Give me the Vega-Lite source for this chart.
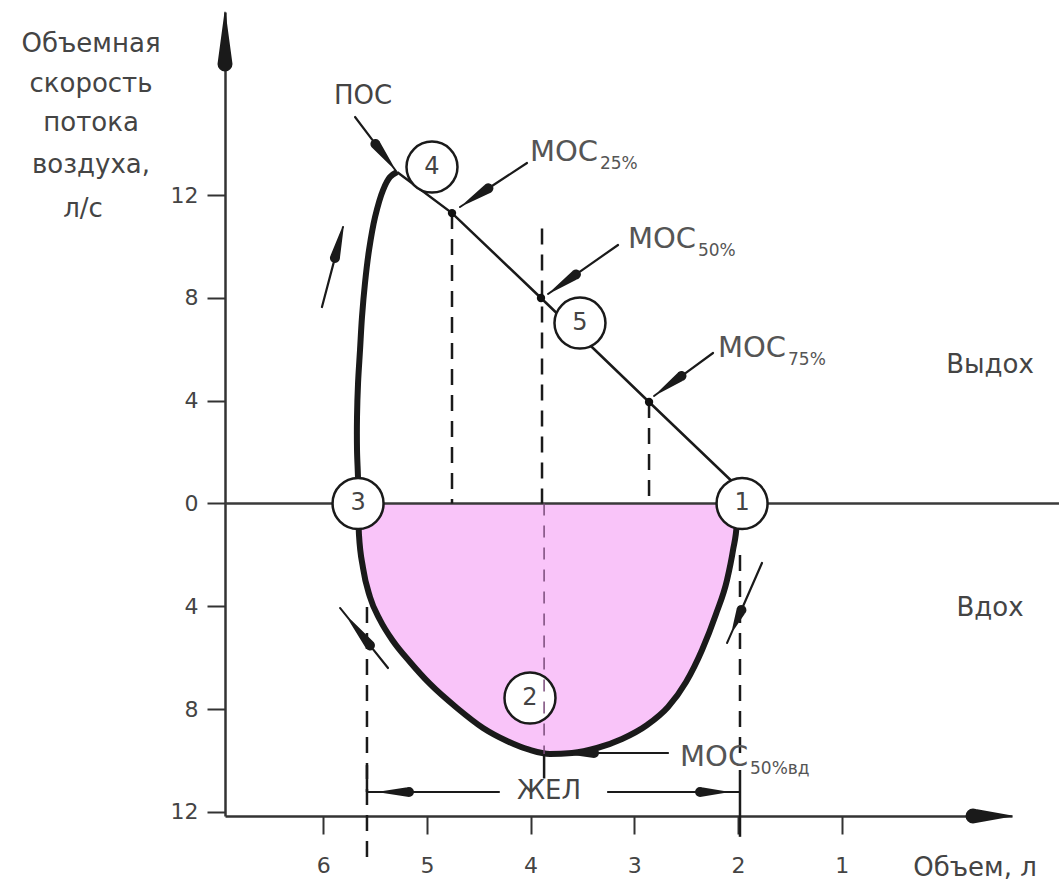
{
  "$schema": "https://vega.github.io/schema/vega-lite/v6.json",
  "width": 787,
  "height": 804,
  "autosize": {"type": "none"},
  "padding": {"left": 225, "top": 12, "right": 47, "bottom": 70},
  "background": "white",
  "config": {"view": {"stroke": null}, "font": "DejaVu Sans"},
  "datasets": {
    "insp": [
      {"v": 5.664, "f": 0}, {"v": 5.655, "f": -1.226}, {"v": 5.616, "f": -2.51}, {"v": 5.549, "f": -3.638},
      {"v": 5.452, "f": -4.533}, {"v": 5.327, "f": -5.35}, {"v": 5.163, "f": -6.167}, {"v": 4.97, "f": -7.023},
      {"v": 4.71, "f": -7.957}, {"v": 4.459, "f": -8.735}, {"v": 4.228, "f": -9.241}, {"v": 4.006, "f": -9.591},
      {"v": 3.813, "f": -9.747}, {"v": 3.601, "f": -9.708}, {"v": 3.36, "f": -9.514}, {"v": 3.119, "f": -9.163},
      {"v": 2.877, "f": -8.619}, {"v": 2.675, "f": -7.918}, {"v": 2.501, "f": -6.946}, {"v": 2.347, "f": -5.7},
      {"v": 2.212, "f": -4.3}, {"v": 2.106, "f": -2.977}, {"v": 2.048, "f": -1.809}, {"v": 2.01, "f": -0.72},
      {"v": 2.0, "f": 0}
    ],
    "exp": [
      {"seq": 0, "v": 5.664, "f": 0}, {"seq": 1, "v": 5.664, "f": 0.914}, {"seq": 2, "v": 5.674, "f": 2.082},
      {"seq": 3, "v": 5.674, "f": 3.366}, {"seq": 4, "v": 5.664, "f": 4.689}, {"seq": 5, "v": 5.645, "f": 5.973},
      {"seq": 6, "v": 5.626, "f": 7.257}, {"seq": 7, "v": 5.597, "f": 8.58}, {"seq": 8, "v": 5.558, "f": 9.864},
      {"seq": 9, "v": 5.5, "f": 11.148}, {"seq": 10, "v": 5.423, "f": 12.198}, {"seq": 11, "v": 5.356, "f": 12.704},
      {"seq": 12, "v": 5.288, "f": 12.899}
    ],
    "straight": [
      {"v": 5.288, "f": 12.899}, {"v": 4.758, "f": 11.3}, {"v": 3.9, "f": 7.996}, {"v": 2.858, "f": 3.949}, {"v": 1.961, "f": 0.486}
    ],
    "dots": [
      {"name": "МОС25%", "v": 4.758, "f": 11.3}, {"name": "МОС50%", "v": 3.9, "f": 7.996}, {"name": "МОС75%", "v": 2.858, "f": 3.949}
    ],
    "circles": [
      {"n": "1", "v": 1.961, "f": 0}, {"n": "2", "v": 4.006, "f": -7.568}, {"n": "3", "v": 5.664, "f": 0},
      {"n": "4", "v": 4.951, "f": 13.09}, {"n": "5", "v": 3.524, "f": 7.02}
    ],
    "guides": [
      {"id": "zero", "kind": "axis", "v": 6.947, "f": 0, "v2": -1.095, "f2": 0},
      {"id": "moc25", "kind": "dash", "v": 4.758, "f": 11.3, "v2": 4.758, "f2": 0},
      {"id": "moc75", "kind": "dash", "v": 2.858, "f": 3.949, "v2": 2.858, "f2": 0},
      {"id": "mid_up", "kind": "dash", "v": 3.89, "f": 10.7, "v2": 3.89, "f2": 0},
      {"id": "mid_low", "kind": "thin", "v": 3.87, "f": 0, "v2": 3.87, "f2": -9.75},
      {"id": "mid_solid", "kind": "solid", "v": 3.87, "f": -9.75, "v2": 3.87, "f2": -10.7},
      {"id": "left", "kind": "dash", "v": 5.578, "f": -4.03, "v2": 5.578, "f2": -13.87},
      {"id": "left_solid", "kind": "solid", "v": 5.578, "f": -10.18, "v2": 5.578, "f2": -11.23},
      {"id": "right", "kind": "dash", "v": 1.981, "f": -2.0, "v2": 1.981, "f2": -9.9},
      {"id": "right_solid", "kind": "solid", "v": 1.981, "f": -10.37, "v2": 1.981, "f2": -12.97}
    ],
    "arrows": [
      {"id": "pos", "seq": 0, "part": "shaft", "v": 5.693, "f": 15.039},
      {"id": "pos", "seq": 1, "part": "shaft", "v": 5.508, "f": 14.054},
      {"id": "pos", "seq": 2, "part": "head", "v": 5.497, "f": 13.992},
      {"id": "pos", "seq": 3, "part": "point", "v": 5.333, "f": 13.125},
      {"id": "pos", "seq": 4, "part": "point", "v": 5.298, "f": 12.938},
      {"id": "m25", "seq": 0, "part": "shaft", "v": 4.035, "f": 13.249},
      {"id": "m25", "seq": 1, "part": "shaft", "v": 4.391, "f": 12.307},
      {"id": "m25", "seq": 2, "part": "head", "v": 4.407, "f": 12.265},
      {"id": "m25", "seq": 3, "part": "point", "v": 4.633, "f": 11.665},
      {"id": "m25", "seq": 4, "part": "point", "v": 4.681, "f": 11.537},
      {"id": "m50", "seq": 0, "part": "shaft", "v": 3.157, "f": 10.058},
      {"id": "m50", "seq": 1, "part": "shaft", "v": 3.548, "f": 8.957},
      {"id": "m50", "seq": 2, "part": "head", "v": 3.563, "f": 8.911},
      {"id": "m50", "seq": 3, "part": "point", "v": 3.785, "f": 8.284},
      {"id": "m50", "seq": 4, "part": "point", "v": 3.832, "f": 8.152},
      {"id": "m75", "seq": 0, "part": "shaft", "v": 2.241, "f": 5.856},
      {"id": "m75", "seq": 1, "part": "shaft", "v": 2.529, "f": 5.008},
      {"id": "m75", "seq": 2, "part": "head", "v": 2.545, "f": 4.961},
      {"id": "m75", "seq": 3, "part": "point", "v": 2.764, "f": 4.319},
      {"id": "m75", "seq": 4, "part": "point", "v": 2.81, "f": 4.183},
      {"id": "m50vd", "seq": 0, "part": "shaft", "v": 2.675, "f": -9.708},
      {"id": "m50vd", "seq": 1, "part": "shaft", "v": 3.369, "f": -9.708},
      {"id": "m50vd", "seq": 2, "part": "head", "v": 3.389, "f": -9.708},
      {"id": "m50vd", "seq": 3, "part": "point", "v": 3.659, "f": -9.708},
      {"id": "m50vd", "seq": 4, "part": "point", "v": 3.716, "f": -9.708},
      {"id": "zhel_l", "seq": 0, "part": "shaft", "v": 4.305, "f": -11.226},
      {"id": "zhel_l", "seq": 1, "part": "shaft", "v": 5.153, "f": -11.226},
      {"id": "zhel_l", "seq": 2, "part": "head", "v": 5.173, "f": -11.226},
      {"id": "zhel_l", "seq": 3, "part": "point", "v": 5.423, "f": -11.226},
      {"id": "zhel_l", "seq": 4, "part": "point", "v": 5.578, "f": -11.226},
      {"id": "zhel_r", "seq": 0, "part": "shaft", "v": 3.254, "f": -11.226},
      {"id": "zhel_r", "seq": 1, "part": "shaft", "v": 2.386, "f": -11.226},
      {"id": "zhel_r", "seq": 2, "part": "head", "v": 2.366, "f": -11.226},
      {"id": "zhel_r", "seq": 3, "part": "point", "v": 2.135, "f": -11.226},
      {"id": "zhel_r", "seq": 4, "part": "point", "v": 1.981, "f": -11.226},
      {"id": "dir_a", "seq": 0, "part": "shaft", "v": 6.012, "f": 7.646},
      {"id": "dir_a", "seq": 1, "part": "shaft", "v": 5.892, "f": 9.479},
      {"id": "dir_a", "seq": 2, "part": "head", "v": 5.887, "f": 9.556},
      {"id": "dir_a", "seq": 3, "part": "point", "v": 5.814, "f": 10.685},
      {"id": "dir_a", "seq": 4, "part": "point", "v": 5.809, "f": 10.759},
      {"id": "dir_b", "seq": 0, "part": "shaft", "v": 5.375, "f": -6.401},
      {"id": "dir_b", "seq": 1, "part": "shaft", "v": 5.536, "f": -5.588},
      {"id": "dir_b", "seq": 2, "part": "head", "v": 5.549, "f": -5.525},
      {"id": "dir_b", "seq": 3, "part": "point", "v": 5.747, "f": -4.521},
      {"id": "dir_b", "seq": 4, "part": "point", "v": 5.838, "f": -4.066},
      {"id": "dir_c", "seq": 0, "part": "shaft", "v": 1.769, "f": -2.315},
      {"id": "dir_c", "seq": 1, "part": "shaft", "v": 1.96, "f": -4.074},
      {"id": "dir_c", "seq": 2, "part": "head", "v": 1.967, "f": -4.144},
      {"id": "dir_c", "seq": 3, "part": "point", "v": 2.048, "f": -4.895},
      {"id": "dir_c", "seq": 4, "part": "point", "v": 2.106, "f": -5.428},
      {"id": "axis_y", "seq": 0, "part": "axis", "v": 6.947, "f": 17.02},
      {"id": "axis_y", "seq": 1, "part": "axishead", "v": 6.947, "f": 17.1},
      {"id": "axis_y", "seq": 2, "part": "tip", "v": 6.947, "f": 19.125},
      {"id": "axis_x", "seq": 0, "part": "axis", "v": -0.247, "f": -12.16},
      {"id": "axis_x", "seq": 1, "part": "axishead", "v": -0.266, "f": -12.16},
      {"id": "axis_x", "seq": 2, "part": "tip", "v": -0.642, "f": -12.16}
    ],
    "ytitle": [
      {"t": "Объемная", "v": 8.239, "f": 17.88},
      {"t": "скорость", "v": 8.239, "f": 16.32},
      {"t": "потока", "v": 8.239, "f": 14.81},
      {"t": "воздуха,", "v": 8.239, "f": 13.17},
      {"t": "л/с", "v": 8.316, "f": 11.46}
    ],
    "labels": [
      {"t": "ПОС", "v": 5.616, "f": 15.856},
      {"t": "ЖЕЛ", "v": 3.823, "f": -11.19},
      {"t": "Выдох", "v": -0.43, "f": 5.39},
      {"t": "Вдох", "v": -0.43, "f": -4.07},
      {"t": "Объем, л", "v": -0.285, "f": -14.18}
    ],
    "moc": [
      {"t": "МОС", "sub": "25%", "v": 4.006, "f": 13.68},
      {"t": "МОС", "sub": "50%", "v": 3.061, "f": 10.29},
      {"t": "МОС", "sub": "75%", "v": 2.193, "f": 6.05},
      {"t": "МОС", "sub": "50%вд", "v": 2.559, "f": -9.86}
    ]
  },
  "encoding": {
    "x": {
      "field": "v", "type": "quantitative",
      "scale": {"domain": [-0.642, 6.947], "reverse": true, "nice": false, "zero": false},
      "axis": {"values": [1, 2, 3, 4, 5, 6], "title": null, "grid": false, "domainColor": "#333", "domainWidth": 2.5,
        "tickColor": "#333", "tickWidth": 2, "tickSize": 18, "labelFontSize": 22, "labelColor": "#444",
        "labelPadding": 21, "labelFont": "DejaVu Sans", "labelFlush": false, "labelOverlap": false, "labelBound": false}
    },
    "y": {
      "field": "f", "type": "quantitative",
      "scale": {"domain": [-12.16, 19.125], "nice": false, "zero": false},
      "axis": {"values": [-12, -8, -4, 0, 4, 8, 12], "labelExpr": "abs(datum.value)", "title": null, "grid": false,
        "domainColor": "#333", "domainWidth": 2.5, "tickColor": "#333", "tickWidth": 2, "tickSize": 18,
        "labelFontSize": 22, "labelColor": "#444", "labelPadding": 9, "labelFont": "DejaVu Sans",
        "labelFlush": false, "labelOverlap": false, "labelBound": false}
    }
  },
  "layer": [
    {"data": {"name": "insp"}, "mark": {"type": "area", "color": "#f9c4f9", "orient": "vertical", "interpolate": "monotone", "opacity": 1}, "encoding": {"y2": {"datum": 0}}},
    {"data": {"name": "guides"}, "transform": [{"filter": "datum.kind == 'axis'"}], "mark": {"type": "rule", "color": "#3a3a3a", "strokeWidth": 2.5}, "encoding": {"x2": {"field": "v2"}, "y2": {"field": "f2"}}},
    {"data": {"name": "guides"}, "transform": [{"filter": "datum.kind == 'dash'"}], "mark": {"type": "rule", "color": "#1a1a1a", "strokeWidth": 2.5, "strokeDash": [16, 10]}, "encoding": {"x2": {"field": "v2"}, "y2": {"field": "f2"}}},
    {"data": {"name": "guides"}, "transform": [{"filter": "datum.kind == 'solid'"}], "mark": {"type": "rule", "color": "#1a1a1a", "strokeWidth": 2.5}, "encoding": {"x2": {"field": "v2"}, "y2": {"field": "f2"}}},
    {"data": {"name": "insp"}, "mark": {"type": "line", "color": "#1a1a1a", "strokeWidth": 6, "interpolate": "monotone"}},
    {"data": {"name": "exp"}, "mark": {"type": "line", "color": "#1a1a1a", "strokeWidth": 6, "interpolate": "catmull-rom"}, "encoding": {"order": {"field": "seq", "type": "quantitative"}}},
    {"data": {"name": "straight"}, "mark": {"type": "line", "color": "#1a1a1a", "strokeWidth": 2.5}},
    {"data": {"name": "dots"}, "mark": {"type": "point", "filled": true, "color": "#111", "size": 70, "opacity": 1}},
    {"data": {"name": "circles"}, "mark": {"type": "point", "shape": "circle", "size": 2600, "fill": "white", "stroke": "#1a1a1a", "strokeWidth": 2.5, "opacity": 1, "fillOpacity": 1}},
    {"data": {"name": "circles"}, "mark": {"type": "text", "fontSize": 24, "color": "#444", "align": "center", "baseline": "middle"}, "encoding": {"text": {"field": "n"}}},
    {"data": {"name": "guides"}, "transform": [{"filter": "datum.kind == 'thin'"}], "mark": {"type": "rule", "color": "#7a4a7a", "strokeWidth": 1.5, "strokeDash": [12, 10]}, "encoding": {"x2": {"field": "v2"}, "y2": {"field": "f2"}}},
    {"data": {"name": "arrows"}, "mark": {"type": "trail", "color": "#1a1a1a"},
      "encoding": {"order": {"field": "seq", "type": "quantitative"}, "detail": {"field": "id"},
        "size": {"field": "part", "type": "ordinal", "scale": {"type": "ordinal", "domain": ["shaft", "head", "point", "axis", "axishead", "tip"], "range": [2.2, 10, 2, 2.5, 15, 0]}, "legend": null}}},
    {"data": {"name": "ytitle"}, "mark": {"type": "text", "fontSize": 26, "color": "#444", "align": "center", "baseline": "middle"}, "encoding": {"text": {"field": "t"}}},
    {"data": {"name": "labels"}, "mark": {"type": "text", "fontSize": 26, "color": "#444", "align": "center", "baseline": "middle"}, "encoding": {"text": {"field": "t"}}},
    {"data": {"name": "moc"}, "mark": {"type": "text", "fontSize": 29, "color": "#555", "align": "left", "baseline": "middle"}, "encoding": {"text": {"field": "t"}}},
    {"data": {"name": "moc"}, "mark": {"type": "text", "fontSize": 17, "color": "#555", "align": "left", "baseline": "middle", "dx": 70, "dy": 12}, "encoding": {"text": {"field": "sub"}}}
  ]
}
